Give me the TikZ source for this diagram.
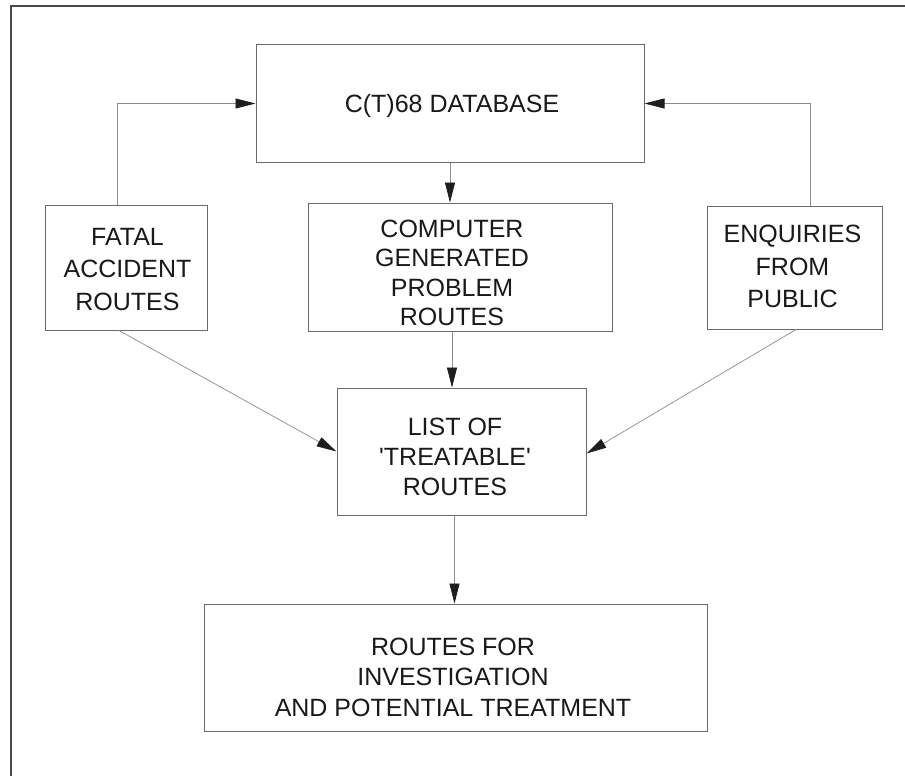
\documentclass[tikz,border=0pt]{standalone}
\usepackage{fontspec}
\setmainfont{Liberation Sans}
\usetikzlibrary{arrows.meta}
\definecolor{boxline}{HTML}{6A6A6A}
\definecolor{linkgray}{HTML}{8C8C8C}
\definecolor{tipgray}{HTML}{1E1E1E}
\definecolor{framegray}{HTML}{4A4A4A}
\begin{document}
\begin{tikzpicture}[x=1pt,y=-1pt,
  box/.style={draw=boxline, line width=1pt, rectangle, inner sep=0pt},
  lbl/.style={align=center, inner sep=0pt, text=black!90},
  flow/.style={draw=linkgray, line width=0.7pt,
    -{Triangle[length=20pt,width=10pt,color=tipgray]}}]
\useasboundingbox (0,0) rectangle (905,776);
\fill[white] (0,0) rectangle (905,776);
% page frame
\draw[framegray, line width=2.2pt] (11,776) -- (11,6) -- (905,6);

% boxes
\node[box, minimum width=388pt, minimum height=117pt] (db)    at (450,103.5) {};
\node[box, minimum width=304pt, minimum height=128pt] (mid)   at (460,267)   {};
\node[box, minimum width=162pt, minimum height=125pt] (fatal) at (126,267.5) {};
\node[box, minimum width=175pt, minimum height=123pt] (enq)   at (794.5,267.5) {};
\node[box, minimum width=249pt, minimum height=127pt] (list)  at (461.5,451.5) {};
\node[box, minimum width=503pt, minimum height=127pt] (out)   at (455.5,667.5) {};

% box texts
\node[lbl, anchor=base, font=\fontsize{25}{29.5}\selectfont] (dbt) at (452,112.5) {C(T)68 DATABASE};
\node[lbl, anchor=north, font=\fontsize{25}{29.3}\selectfont] (midt) at (452,220)
  {COMPUTER\\GENERATED\\PROBLEM\\ROUTES};
\node[lbl, anchor=north, font=\fontsize{25}{32.5}\selectfont] (fatalt) at (127.5,228)
  {FATAL\\ACCIDENT\\ROUTES};
\node[lbl, anchor=north, font=\fontsize{25}{32.5}\selectfont] (enqt) at (792.5,225)
  {ENQUIRIES\\FROM\\PUBLIC};
\node[lbl, anchor=north, font=\fontsize{25}{30}\selectfont] (listt) at (455,418)
  {LIST OF\\\textquotesingle TREATABLE\textquotesingle\\ROUTES};
\node[lbl, anchor=north, font=\fontsize{25}{30.5}\selectfont] (outt) at (453,637.7)
  {ROUTES FOR\\INVESTIGATION\\AND POTENTIAL TREATMENT};

% connectors
\draw[flow] (db.south) -- (db.south |- mid.north);
\draw[flow] ([xshift=-9pt]fatal.north) |- (db.west);
\draw[flow] ([xshift=15.5pt]enq.north) |- (db.east);
\draw[flow] ([xshift=-7pt]fatal.south) -- (list.west);
\draw[flow] ([xshift=1.5pt]enq.south) -- ([yshift=-2pt]list.east);
\draw[flow] ([xshift=-8pt]mid.south) -- ([xshift=-8pt]mid.south |- list.north);
\draw[flow] ([xshift=-7pt]list.south) -- ([xshift=-7pt]list.south |- out.north);
\end{tikzpicture}
\end{document}
